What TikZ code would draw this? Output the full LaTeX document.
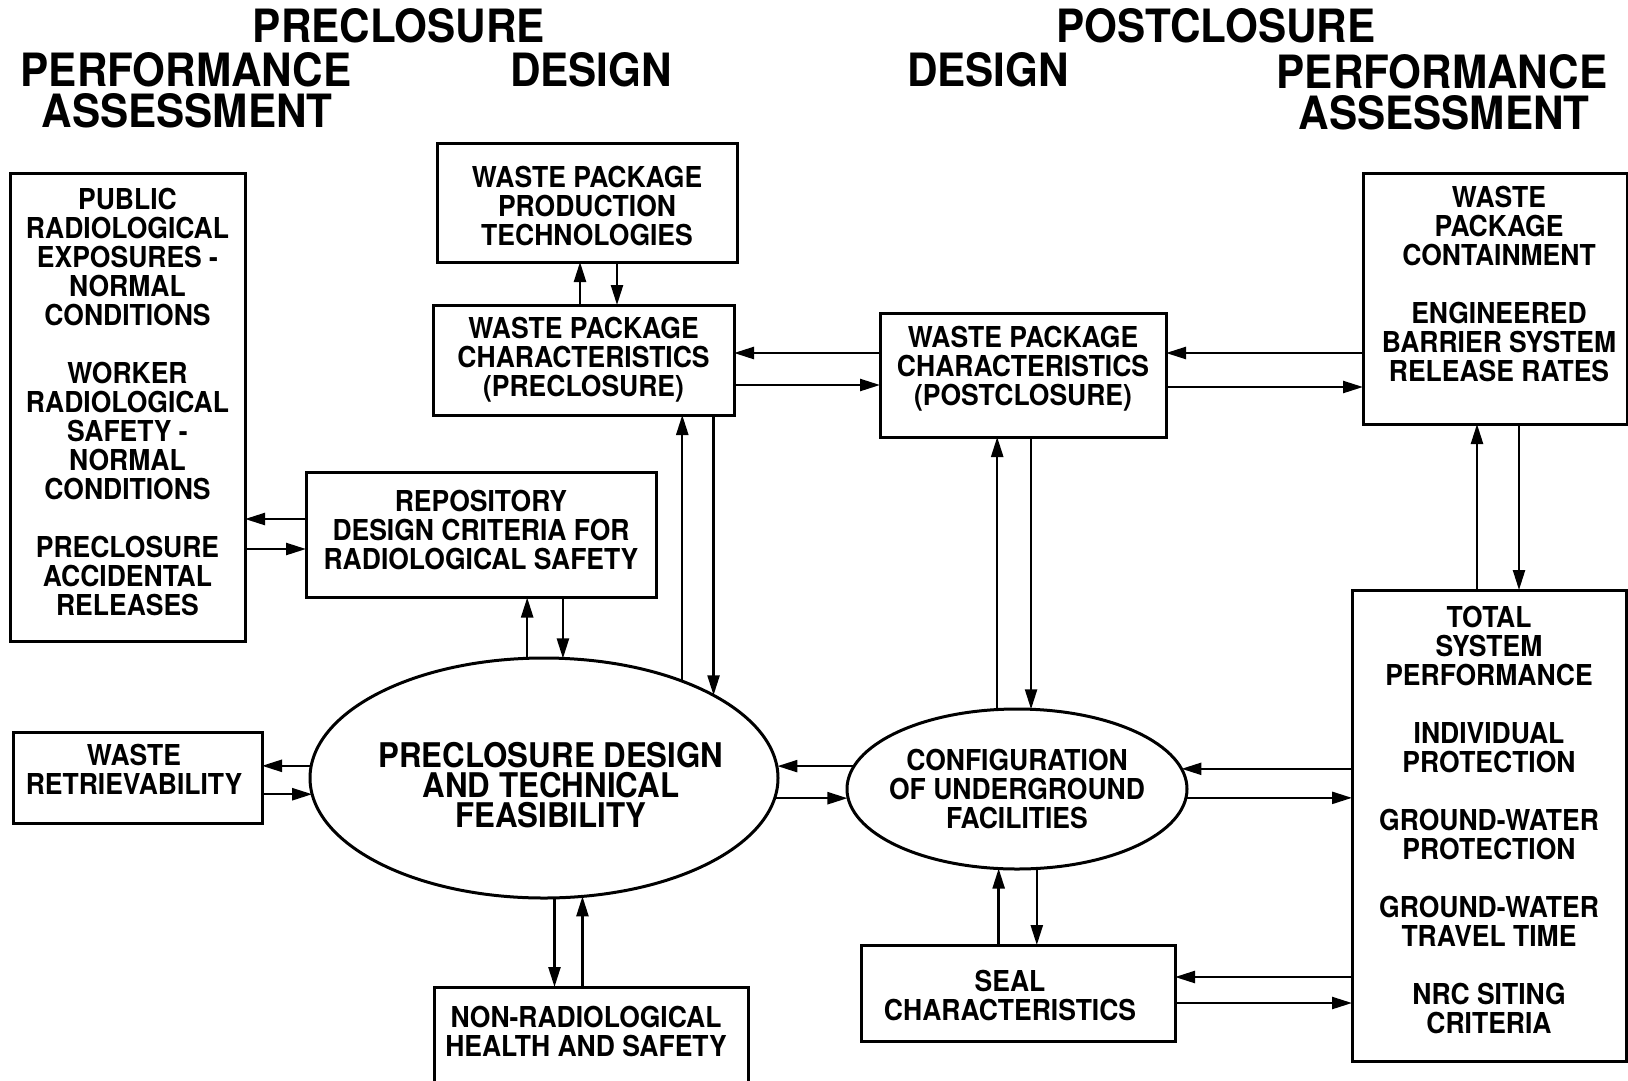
\documentclass[tikz,border=0pt]{standalone}
\usepackage{fontspec}
\setmainfont{TeX Gyre Heros}[FakeStretch=0.92]
\usetikzlibrary{shapes.geometric,arrows.meta}
\begin{document}
\begin{tikzpicture}[x=1pt,y=-1pt,
  box/.style={draw, line width=3pt, rectangle, inner sep=0pt, outer sep=0pt},
  btext/.style={align=center, inner sep=0pt, font=\bfseries\fontsize{28.8}{29}\selectfont},
  ell/.style={draw, line width=3pt, ellipse, inner sep=0pt, outer sep=0pt},
  ttl/.style={anchor=base, inner sep=0pt, font=\bfseries\fontsize{45.9}{46}\selectfont},
  arr/.style={line width=2.4pt, -{Triangle[length=20pt,width=12pt]}},
]
\useasboundingbox (0,0) rectangle (1628,1080);

% titles
\node[ttl] (t1) at (399,42) {PRECLOSURE};
\node[ttl] (t2) at (186,86) {PERFORMANCE};
\node[ttl] (t3) at (187,127) {ASSESSMENT};
\node[ttl] (t4) at (591,86) {DESIGN};
\node[ttl] (t5) at (1216,42) {POSTCLOSURE};
\node[ttl] (t6) at (988,86) {DESIGN};
\node[ttl] (t7) at (1442,88) {PERFORMANCE};
\node[ttl] (t8) at (1444,129) {ASSESSMENT};

% boxes
\node[box, minimum width=235pt, minimum height=468pt] (L) at (127.5,407) {};
\node[btext] (Lt) at ([yshift=5pt]L.center)
 {PUBLIC\\RADIOLOGICAL\\EXPOSURES -\\NORMAL\\CONDITIONS\\[29pt]WORKER\\RADIOLOGICAL\\SAFETY -\\NORMAL\\CONDITIONS\\[29pt]PRECLOSURE\\ACCIDENTAL\\RELEASES};
\node[box, minimum width=300pt, minimum height=119pt] (P) at (587,202.5) {};
\node[btext] (Pt) at ([yshift=-3pt]P.center) {WASTE PACKAGE\\PRODUCTION\\TECHNOLOGIES};
\node[box, minimum width=301pt, minimum height=110pt] (C1) at (583.5,360) {};
\node[btext] (C1t) at (C1.center) {WASTE PACKAGE\\CHARACTERISTICS\\(PRECLOSURE)};
\node[box, minimum width=350pt, minimum height=125pt] (R) at (481,535) {};
\node[btext] (Rt) at ([yshift=5pt]R.center) {REPOSITORY\\DESIGN CRITERIA FOR\\RADIOLOGICAL SAFETY};
\node[box, minimum width=286pt, minimum height=124pt] (C2) at (1023,375) {};
\node[btext] (C2t) at ([yshift=6pt]C2.center) {WASTE PACKAGE\\CHARACTERISTICS\\(POSTCLOSURE)};
\node[box, minimum width=264pt, minimum height=251pt] (T) at (1495,298.5) {};
\node[btext] (Tt) at ([xshift=4pt,yshift=14.5pt]T.center)
 {WASTE\\PACKAGE\\CONTAINMENT\\[29pt]ENGINEERED\\BARRIER SYSTEM\\RELEASE RATES};
\node[box, minimum width=274pt, minimum height=471pt] (S) at (1489,825.5) {};
\node[btext] (St) at ([yshift=6pt]S.center)
 {TOTAL\\SYSTEM\\PERFORMANCE\\[29pt]INDIVIDUAL\\PROTECTION\\[29pt]GROUND-WATER\\PROTECTION\\[29pt]GROUND-WATER\\TRAVEL TIME\\[29pt]NRC SITING\\CRITERIA};
\node[box, minimum width=249pt, minimum height=91pt] (W) at (137.5,777.5) {};
\node[btext] (Wt) at ([xshift=-3.5pt,yshift=8pt]W.center) {WASTE\\RETRIEVABILITY};
\node[box, minimum width=314pt, minimum height=96pt] (Se) at (1018,993) {};
\node[btext] (Set) at ([xshift=-8pt,yshift=-2pt]Se.center) {SEAL\\CHARACTERISTICS};
\node[box, minimum width=314pt, minimum height=113pt] (N) at (591,1043.5) {};
\node[btext] (Nt) at ([xshift=-5pt,yshift=12.5pt]N.center) {NON-RADIOLOGICAL\\HEALTH AND SAFETY};

% ellipses
\node[ell, minimum width=468pt, minimum height=240pt] (E1) at (544,778) {};
\node[btext, font=\bfseries\fontsize{34}{30}\selectfont] (E1t) at ([xshift=7pt,yshift=-7pt]E1.center)
 {PRECLOSURE DESIGN\\AND TECHNICAL\\FEASIBILITY};
\node[ell, minimum width=340pt, minimum height=160pt] (E2) at (1017,789) {};
\node[btext] (E2t) at (E2.center) {CONFIGURATION\\OF UNDERGROUND\\FACILITIES};

% P <-> C1
\draw[arr] ([xshift=-7pt]P.south |- C1.north) -- ([xshift=-7pt]P.south);
\draw[arr] ([xshift=30pt]P.south) -- ([xshift=30pt]P.south |- C1.north);
% C1 <-> C2
\draw[arr] ([yshift=7pt]C2.west |- C1.east) -- ([yshift=7pt]C1.east);
\draw[arr] ([yshift=-25pt]C1.east) -- ([yshift=-25pt]C2.west |- C1.east);
% C2 <-> T
\draw[arr] ([yshift=22pt]T.west |- C2.east) -- ([yshift=22pt]C2.east);
\draw[arr] ([yshift=-12pt]C2.east) -- ([yshift=-12pt]T.west |- C2.east);
% L <-> R
\draw[arr] ([yshift=16pt]R.west) -- ([yshift=16pt]L.east |- R.west);
\draw[arr] ([yshift=-14pt]L.east |- R.west) -- ([yshift=-14pt]R.west);
% R <-> E1
\draw[arr] (E1.98.1) -- (R.south -| E1.98.1);
\draw[arr] (R.south -| E1.81.9) -- (E1.81.9);
% C1 <-> E1
\draw[arr] (E1.35.68) -- (C1.south -| E1.35.68);
\draw[arr] (C1.south -| E1.26.43) -- (E1.26.43);
% W <-> E1
\draw[arr] (E1.177.05) -- (W.east |- E1.177.05);
\draw[arr] (W.east |- E1.184.70) -- (E1.184.70);
% E1 <-> E2
\draw[arr] (E2.172.33) -- (E1.2.70 |- E2.172.33);
\draw[arr] (E1.355.8) -- (E2.182.03 |- E1.355.8);
% E2 <-> S
\draw[arr] (S.west |- E2.7.30) -- (E2.7.30);
\draw[arr] (E2.357.29) -- (S.west |- E2.357.29);
% C2 <-> E2
\draw[arr] (E2.104.13) -- (C2.south -| E2.104.13);
\draw[arr] (C2.south -| E2.80.04) -- (E2.80.04);
% E2 <-> Se
\draw[arr] (Se.north -| E2.257.94) -- (E2.257.94);
\draw[arr] (E2.284.13) -- (Se.north -| E2.284.13);
% E1 <-> N
\draw[arr] (E1.275.72) -- (N.north -| E1.275.72);
\draw[arr] (N.north -| E1.288.25) -- (E1.288.25);
% Se <-> S
\draw[arr] ([yshift=16pt]S.west |- Se.east) -- ([yshift=16pt]Se.east);
\draw[arr] ([yshift=-10pt]Se.east) -- ([yshift=-10pt]S.west |- Se.east);
% T <-> S
\draw[arr] ([xshift=-18pt]T.south |- S.north) -- ([xshift=-18pt]T.south);
\draw[arr] ([xshift=24pt]T.south) -- ([xshift=24pt]T.south |- S.north);
\end{tikzpicture}
\end{document}
